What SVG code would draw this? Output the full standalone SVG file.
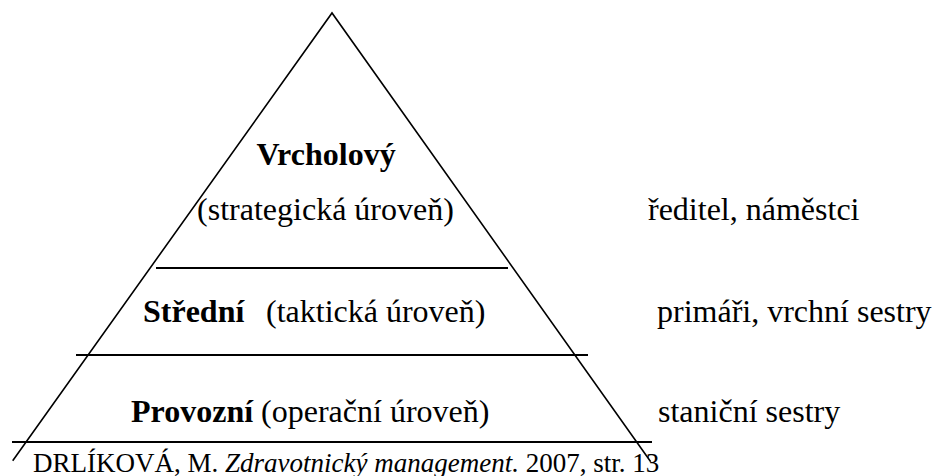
<svg xmlns="http://www.w3.org/2000/svg" width="934" height="476" viewBox="0 0 934 476">
<style>
  .edge { stroke: #000; stroke-width: 1.6; fill: none; }
  .sep { stroke: #000; stroke-width: 2; fill: none; }
  text { font-family: "Liberation Serif", serif; font-size: 32px; fill: #000; }
  .b { font-weight: bold; }
  .cite { font-size: 27px; }
  .it { font-style: italic; }
</style>
<rect width="934" height="476" fill="#fff"/>
<g id="pyramid">
  <polyline class="edge" points="12.7,460.7 332,13 650.7,461.7"/>
  <line class="sep" x1="156" y1="268" x2="508" y2="268"/>
  <line class="sep" x1="76" y1="355" x2="588" y2="355"/>
  <line class="sep" x1="12" y1="442" x2="652" y2="442"/>
</g>
<g id="level-top">
  <text class="b" x="326" y="165" text-anchor="middle">Vrcholový</text>
  <text x="325.5" y="220" text-anchor="middle">(strategická úroveň)</text>
  <text x="648" y="220">ředitel, náměstci</text>
</g>
<g id="level-middle">
  <text class="b" x="143" y="322">Střední</text>
  <text x="266" y="322">(taktická úroveň)</text>
  <text x="657" y="322">primáři, vrchní sestry</text>
</g>
<g id="level-bottom">
  <text x="131" y="422"><tspan class="b">Provozní</tspan> (operační úroveň)</text>
  <text x="658" y="422">staniční sestry</text>
</g>
<g id="citation">
  <text class="cite" x="33" y="472">DRLÍKOVÁ, M. <tspan class="it">Zdravotnický management.</tspan> 2007, str. 13</text>
</g>
</svg>
